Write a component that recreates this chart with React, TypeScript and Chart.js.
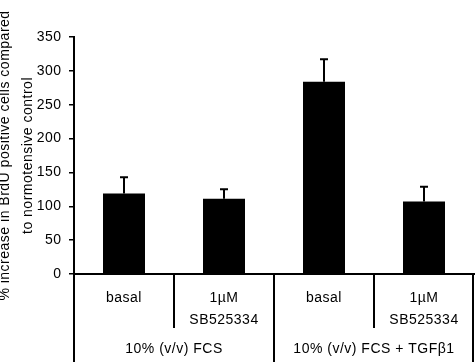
import React, { useEffect, useRef } from "react";
import { Chart, registerables } from "chart.js";

Chart.register(...registerables);

const categories = ["basal", "1µM SB525334", "basal", "1µM SB525334"];
const categoryLines = [["basal"], ["1µM", "SB525334"], ["basal"], ["1µM", "SB525334"]];
const groups = ["10% (v/v) FCS", "10% (v/v) FCS + TGFβ1"];
const groupSpans = [[0, 1], [2, 3]];
const values = [119, 111, 284, 107];
const errors = [24, 14, 33, 22];
const yTicks = [0, 50, 100, 150, 200, 250, 300, 350];
const yTitle = ["% increase in BrdU positive cells compared", "to normotensive control"];

const FONT = '"Liberation Sans", Arial, sans-serif';
const SPACING = "0.5px";

const spacingPlugin = {
  id: "spacing",
  beforeUpdate(chart: any) {
    chart.ctx.letterSpacing = SPACING;
  },
  beforeDraw(chart: any) {
    chart.ctx.letterSpacing = SPACING;
  },
};

const errorBarPlugin = {
  id: "errorBars",
  afterDatasetsDraw(chart: any) {
    const ctx = chart.ctx;
    const meta = chart.getDatasetMeta(0);
    const yScale = chart.scales.y;
    ctx.save();
    ctx.strokeStyle = "#000";
    ctx.lineWidth = 2;
    meta.data.forEach((el: any, i: number) => {
      const yTop = yScale.getPixelForValue(values[i] + errors[i]);
      ctx.beginPath();
      ctx.moveTo(el.x, el.y);
      ctx.lineTo(el.x, yTop);
      ctx.moveTo(el.x - 4, yTop);
      ctx.lineTo(el.x + 4, yTop);
      ctx.stroke();
    });
    ctx.restore();
  },
};

const tablePlugin = {
  id: "table",
  afterDraw(chart: any) {
    const ctx = chart.ctx;
    const xScale = chart.scales.x;
    const area = chart.chartArea;
    const n = categories.length;
    const cw = (area.right - area.left) / n;
    const top = area.bottom;
    const bottom = chart.height;
    const midY = 328;
    ctx.save();
    ctx.strokeStyle = "#000";
    ctx.lineWidth = 2;
    for (let i = 0; i <= n; i++) {
      let x = xScale.getPixelForValue(0) - cw / 2 + i * cw;
      if (i === n) x -= 1;
      const isGroupEdge = i === 0 || i === n || i === 2;
      ctx.beginPath();
      ctx.moveTo(x, top);
      ctx.lineTo(x, isGroupEdge ? bottom : midY);
      ctx.stroke();
    }
    ctx.fillStyle = "#000";
    ctx.letterSpacing = SPACING;
    ctx.font = `14px ${FONT}`;
    ctx.textAlign = "center";
    ctx.textBaseline = "middle";
    categoryLines.forEach((lines, i) => {
      const x = xScale.getPixelForValue(i);
      lines.forEach((t, j) => {
        ctx.fillText(t, x, 298 + j * 22);
      });
    });
    groups.forEach((g, k) => {
      const [a, b] = groupSpans[k];
      const x = (xScale.getPixelForValue(a) + xScale.getPixelForValue(b)) / 2;
      ctx.fillText(g, x, 349);
    });
    ctx.restore();
  },
};

export default function App() {
  const ref = useRef<HTMLCanvasElement | null>(null);
  useEffect(() => {
    document.body.style.margin = "0";
    const canvas = ref.current!;
    const chart = new Chart(canvas, {
      type: "bar",
      data: {
        labels: categories,
        datasets: [
          {
            data: values,
            backgroundColor: "#000",
            borderWidth: 0,
            barPercentage: 0.42,
            categoryPercentage: 1,
          },
        ],
      },
      options: {
        animation: false,
        responsive: false,
        devicePixelRatio: 1,
        layout: { padding: { top: 37, right: 1, left: 0, bottom: 0 } },
        plugins: { legend: { display: false }, tooltip: { enabled: false } },
        scales: {
          x: {
            ticks: { display: false },
            grid: { display: false },
            border: { display: true, color: "#000", width: 2 },
            afterFit(scale: any) {
              scale.height = 88;
            },
          },
          y: {
            min: 0,
            max: 350,
            afterBuildTicks(scale: any) {
              scale.ticks = yTicks.map((v) => ({ value: v }));
            },
            ticks: {
              color: "#000",
              font: { family: FONT, size: 14 },
              padding: 7.5,
            },
            grid: {
              display: true,
              drawOnChartArea: false,
              drawTicks: true,
              tickLength: 5,
              tickColor: "#000",
              lineWidth: 1.5,
            },
            border: { display: true, color: "#000", width: 2 },
            title: {
              display: true,
              text: yTitle,
              color: "#000",
              font: { family: FONT, size: 14, lineHeight: 23 / 14 },
              padding: { top: -6.5, bottom: 0 },
            },
            afterFit(scale: any) {
              scale.width = 74;
            },
          },
        },
      },
      plugins: [spacingPlugin, errorBarPlugin, tablePlugin],
    });
    return () => chart.destroy();
  }, []);
  return (
    <div style={{ position: "fixed", left: 0, top: 0, width: 475, height: 362, background: "#fff" }}>
      <canvas ref={ref} width={475} height={362} style={{ display: "block" }} />
    </div>
  );
}
